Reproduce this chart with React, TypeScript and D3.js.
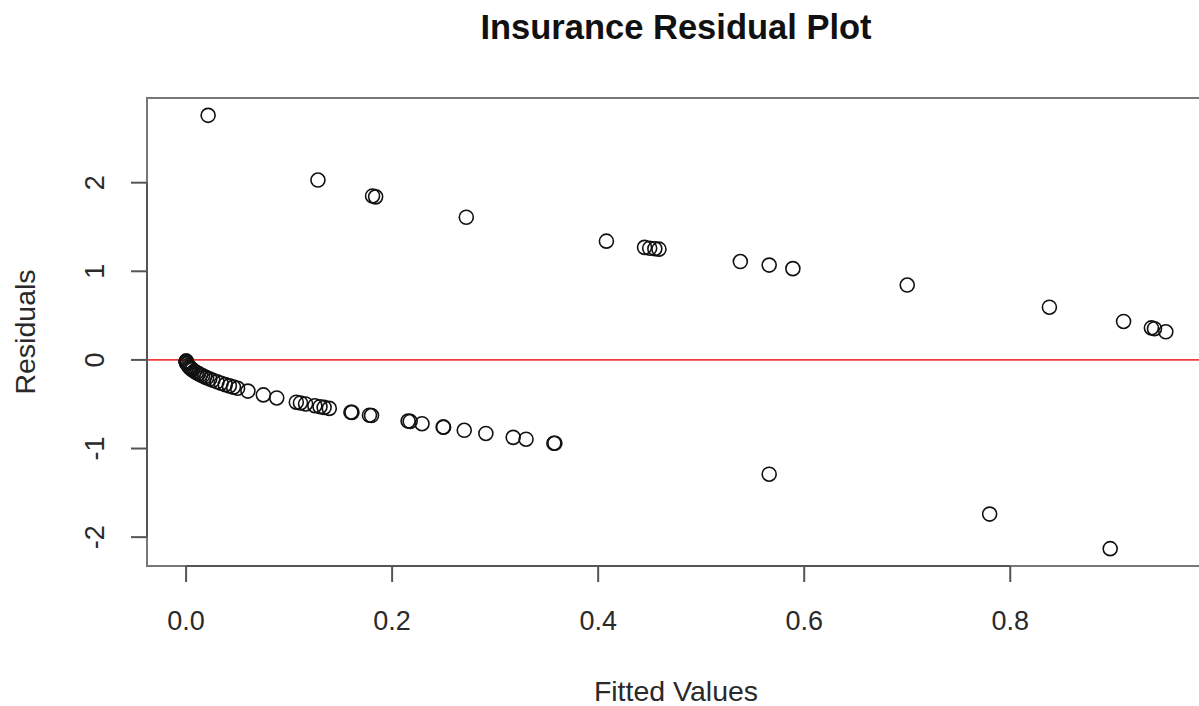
import React from "react";
import * as d3 from "d3";

// observations with response = 1 (upper arc)
const upperFitted = [0.0214, 0.128, 0.181, 0.184, 0.272, 0.408, 0.445, 0.45, 0.455, 0.459, 0.538, 0.566, 0.589, 0.7, 0.838, 0.91, 0.937, 0.94, 0.951];
const upperResid = [2.76, 2.03, 1.85, 1.84, 1.61, 1.34, 1.27, 1.26, 1.255, 1.25, 1.11, 1.07, 1.03, 0.845, 0.595, 0.434, 0.361, 0.352, 0.317];

// observations with response = 0 (lower arc)
const lowerFitted = [
  0.0001, 0.0001, 0.0002, 0.0003, 0.0004, 0.0005, 0.001, 0.002, 0.003, 0.004, 0.005, 0.006, 0.008,
  0.01, 0.012, 0.014, 0.016, 0.018, 0.02, 0.023, 0.026, 0.03, 0.034, 0.038, 0.042, 0.046, 0.05,
  0.06, 0.075, 0.088, 0.107, 0.111, 0.116, 0.125, 0.13, 0.134, 0.139, 0.16, 0.161, 0.178, 0.18,
  0.2155, 0.2175, 0.229, 0.2495, 0.25, 0.27, 0.291, 0.3175, 0.33, 0.357, 0.358,
];
const lowerResid = [
  -0.014, -0.014, -0.02, -0.025, -0.028, -0.032, -0.045, -0.063, -0.078, -0.09, -0.1, -0.11, -0.127,
  -0.142, -0.155, -0.168, -0.179, -0.191, -0.201, -0.216, -0.23, -0.247, -0.263, -0.279, -0.293, -0.307, -0.32,
  -0.352, -0.395, -0.429, -0.477, -0.486, -0.497, -0.517, -0.528, -0.536, -0.547, -0.59, -0.592, -0.624, -0.628,
  -0.69, -0.694, -0.72, -0.758, -0.759, -0.794, -0.83, -0.874, -0.895, -0.94, -0.94,
];

// the three far-off low points
const outlierFitted = [0.566, 0.78, 0.897];
const outlierResid = [-1.29, -1.74, -2.13];

const xTicks = [0, 0.2, 0.4, 0.6, 0.8];
const yTicks = [-2, -1, 0, 1, 2];

const width = 1199;
const height = 706;
const box = { left: 147, right: 1205, top: 98, bottom: 566 };

const font = "'Liberation Sans', Arial, Helvetica, sans-serif";

const App = () => {
  const fitted = [...upperFitted, ...lowerFitted, ...outlierFitted];
  const resid = [...upperResid, ...lowerResid, ...outlierResid];
  const points = fitted.map((f, i) => ({ f, r: resid[i] }));

  // R style 4% padding on both ends
  const [xmin, xmax] = d3.extent(fitted) as [number, number];
  const [ymin, ymax] = d3.extent(resid) as [number, number];
  const xPad = (xmax - xmin) * 0.04;
  const yPad = (ymax - ymin) * 0.04;

  const x = d3.scaleLinear().domain([xmin - xPad, xmax + xPad]).range([box.left, box.right]);
  const y = d3.scaleLinear().domain([ymin - yPad, ymax + yPad]).range([box.bottom, box.top]);

  const axisColor = "#555";
  const textColor = "#2a2a2a";
  const midX = (box.left + box.right) / 2;
  const midY = (box.top + box.bottom) / 2;

  return (
    <svg
      width={width}
      height={height}
      style={{ position: "absolute", left: 0, top: 0, background: "#fff" }}
      fontFamily={font}
    >
      {/* title */}
      <text x={midX} y={39} textAnchor="middle" fontSize={34.5} fontWeight="bold" fill="#111">
        Insurance Residual Plot
      </text>

      {/* plot box */}
      <rect
        x={box.left}
        y={box.top}
        width={box.right - box.left}
        height={box.bottom - box.top}
        fill="none"
        stroke="#777"
        strokeWidth={2}
      />

      {/* zero line */}
      <line x1={box.left} x2={box.right} y1={y(0)} y2={y(0)} stroke="#f03c3c" strokeWidth={1.6} />

      {/* x axis */}
      <line x1={x(xTicks[0])} x2={x(xTicks[xTicks.length - 1])} y1={box.bottom} y2={box.bottom} stroke={axisColor} strokeWidth={2} />
      {xTicks.map((t) => (
        <g key={t}>
          <line x1={x(t)} x2={x(t)} y1={box.bottom} y2={box.bottom + 16} stroke={axisColor} strokeWidth={2} />
          <text x={x(t)} y={630} textAnchor="middle" fontSize={27} fill={textColor}>
            {d3.format(".1f")(t)}
          </text>
        </g>
      ))}
      <text x={midX} y={701} textAnchor="middle" fontSize={28.5} fill={textColor}>
        Fitted Values
      </text>

      {/* y axis */}
      <line x1={box.left} x2={box.left} y1={y(yTicks[0])} y2={y(yTicks[yTicks.length - 1])} stroke={axisColor} strokeWidth={2} />
      {yTicks.map((t) => (
        <g key={t}>
          <line x1={box.left - 16} x2={box.left} y1={y(t)} y2={y(t)} stroke={axisColor} strokeWidth={2} />
          <text
            transform={`translate(${104},${y(t)}) rotate(-90)`}
            textAnchor="middle"
            fontSize={27}
            fill={textColor}
          >
            {t}
          </text>
        </g>
      ))}
      <text transform={`translate(${35},${midY}) rotate(-90)`} textAnchor="middle" fontSize={28.5} fill={textColor}>
        Residuals
      </text>

      {/* points */}
      {points.map((p, i) => (
        <circle key={i} cx={x(p.f)} cy={y(p.r)} r={7} fill="none" stroke="#111" strokeWidth={1.6} />
      ))}
    </svg>
  );
};

export default App;
